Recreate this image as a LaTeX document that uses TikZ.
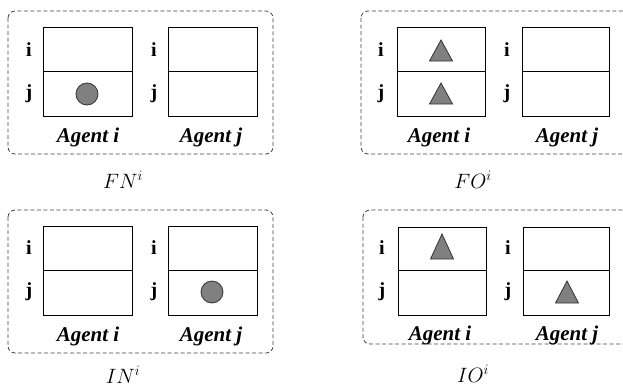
\documentclass[tikz,border=0pt]{standalone}
\usepackage{fontspec}
\setmainfont{Liberation Serif}
\begin{document}
\begin{tikzpicture}[x=1pt,y=-1pt,
  panel/.style={draw=black!75,dashed,dash pattern=on 4pt off 2.5pt,line width=0.8pt,rounded corners=7pt},
  agbox/.style={draw=black,line width=1pt,fill=white},
  rowlab/.style={font=\fontsize{20}{20}\selectfont\bfseries,inner sep=0pt},
  aglab/.style={font=\fontsize{21}{21}\selectfont\bfseries\itshape,inner sep=0pt},
  caplab/.style={font=\fontsize{22}{22}\selectfont,inner sep=0pt},
  tok/.style={fill=black!50,draw=black!80,line width=0.8pt}]
\useasboundingbox (0,0) rectangle (623,389);
\clip (0,0) rectangle (623,389);
% ---------- Panel FN ----------
\draw[panel] (8,11) rectangle (273,154);
\draw[agbox] (43,27) rectangle (132,116); \draw (43,71) -- (132,71);
\draw[agbox] (168,27) rectangle (257,116); \draw (168,71) -- (257,71);
\node[rowlab] (fn-ii) at (29,50) {i};
\node[rowlab] (fn-ij) at (29,94) {j};
\node[rowlab] (fn-ji) at (154,50) {i};
\node[rowlab] (fn-jj) at (154,94) {j};
\node[aglab] (fn-a) at (88,137) {Agent i};
\node[aglab] (fn-b) at (211,137) {Agent j};
\node[caplab] (fn-c) at (123,180) {$FN^i$};
\draw[tok] (87,94) circle (11);
% ---------- Panel FO ----------
\draw[panel] (361,11) rectangle (630,154);
\draw[agbox] (397,27) rectangle (485,116); \draw (397,71) -- (485,71);
\draw[agbox] (522,27) rectangle (609,116); \draw (522,71) -- (609,71);
\node[rowlab] (fo-ii) at (381,50) {i};
\node[rowlab] (fo-ij) at (381,94) {j};
\node[rowlab] (fo-ji) at (507,50) {i};
\node[rowlab] (fo-jj) at (507,94) {j};
\node[aglab] (fo-a) at (439,137) {Agent i};
\node[aglab] (fo-b) at (567,137) {Agent j};
\node[caplab] (fo-c) at (473,180) {$FO^i$};
\draw[tok] (441,40) -- (452.5,61) -- (429.5,61) -- cycle;
\draw[tok] (441,83) -- (452.5,104) -- (429.5,104) -- cycle;
% ---------- Panel IN ----------
\draw[panel] (8,210) rectangle (273,353);
\draw[agbox] (43,226) rectangle (132,315); \draw (43,270) -- (132,270);
\draw[agbox] (168,226) rectangle (257,315); \draw (168,270) -- (257,270);
\node[rowlab] (in-ii) at (29,248) {i};
\node[rowlab] (in-ij) at (29,292) {j};
\node[rowlab] (in-ji) at (154,248) {i};
\node[rowlab] (in-jj) at (154,292) {j};
\node[aglab] (in-a) at (88,336) {Agent i};
\node[aglab] (in-b) at (211,336) {Agent j};
\node[caplab] (in-c) at (123,375) {$IN^i$};
\draw[tok] (212,292) circle (11);
% ---------- Panel IO ----------
\draw[panel] (363,210) rectangle (630,344);
\draw[agbox] (398,227) rectangle (486,315); \draw (398,270) -- (486,270);
\draw[agbox] (523,227) rectangle (609,315); \draw (523,270) -- (609,270);
\node[rowlab] (io-ii) at (382,248) {i};
\node[rowlab] (io-ij) at (382,292) {j};
\node[rowlab] (io-ji) at (508,248) {i};
\node[rowlab] (io-jj) at (508,292) {j};
\node[aglab] (io-a) at (440,335) {Agent i};
\node[aglab] (io-b) at (567,335) {Agent j};
\node[caplab] (io-c) at (473,374) {$IO^i$};
\draw[tok] (442,234) -- (453.5,259) -- (430.5,259) -- cycle;
\draw[tok] (567,281) -- (578.5,303) -- (555.5,303) -- cycle;
\end{tikzpicture}
\end{document}
